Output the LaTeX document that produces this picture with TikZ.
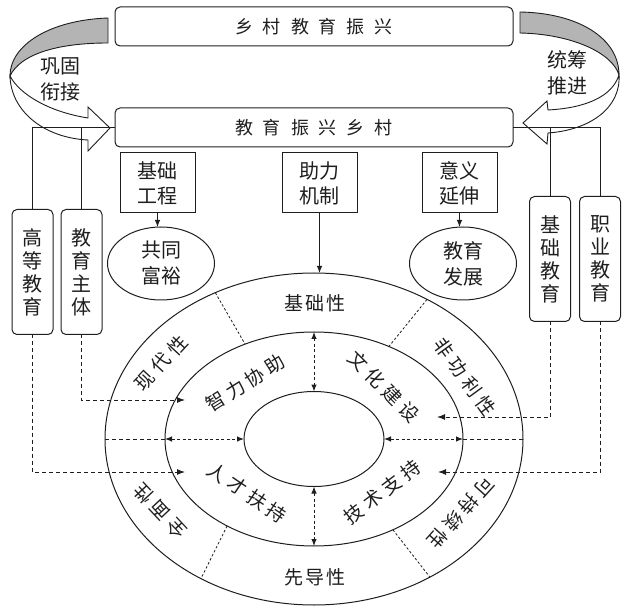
\documentclass[tikz,border=0pt]{standalone}
\usepackage{fontspec}
\setmainfont{Liberation Serif}
\newfontfamily\cjk{Noto Sans CJK SC}
\usetikzlibrary{shapes.geometric,arrows.meta}
\definecolor{bandgray}{RGB}{180,180,180}
\definecolor{ink}{RGB}{30,30,30}
\makeatletter
\def\ls#1#2{\def\ls@k{\kern#1}\ls@first#2\@nil}
\def\ls@first#1{#1\ls@loop}
\def\ls@loop#1{\ifx#1\@nil\else\ls@k#1\expandafter\ls@loop\fi}
\makeatother
\begin{document}
\begin{tikzpicture}[x=1pt,y=-1pt,line width=1pt,draw=ink,
  every node/.style={font=\cjk,text=ink,inner sep=0pt,outer sep=0pt},
  bigbox/.style={draw,rounded corners=5pt,minimum width=398pt,minimum height=39pt,font=\cjk\fontsize{18}{18}\selectfont},
  sqbox/.style={draw,minimum width=75pt,minimum height=60pt,align=center,font=\cjk\fontsize{20}{25}\selectfont},
  ovbox/.style={draw,ellipse,minimum width=107pt,minimum height=73pt,align=center,font=\cjk\fontsize{20}{26}\selectfont},
  vbox/.style={draw,rounded corners=5pt,minimum width=41pt,minimum height=125pt,align=center,font=\cjk\fontsize{20}{23}\selectfont},
  ring/.style={draw,ellipse},
  ringtext/.style={font=\cjk\fontsize{19}{19}\selectfont},
  sidetext/.style={align=center,font=\cjk\fontsize{20}{26}\selectfont},
  solidarr/.style={-{Latex[length=7pt,width=5.5pt]}},
  dashline/.style={dash pattern=on 4pt off 3pt},
  dasharr/.style={dash pattern=on 4pt off 3pt,-{Latex[length=8pt,width=6pt]}},
  dbl/.style={dash pattern=on 3pt off 2.5pt,{Latex[length=7pt,width=5.5pt]}-{Latex[length=7pt,width=5.5pt]}},
  radial/.style={dash pattern=on 2.5pt off 2pt,line width=0.8pt},
  ribbon/.style={line width=0.9pt,draw=ink}
]
\useasboundingbox (0,0) rectangle (624,612);

% curved ribbon arrows
\filldraw[ribbon,fill=bandgray] (108,18) .. controls (50,20) and (10,45) .. (10,76)
  .. controls (20,55) and (55,43) .. (108,43) -- cycle;
\filldraw[ribbon,fill=white] (10,76) .. controls (20,95) and (50,112) .. (88,118)
  -- (88,107) -- (110,128) -- (88,151) -- (88,140)
  .. controls (45,138) and (11,112) .. (10,76) -- cycle;
\filldraw[ribbon,fill=bandgray] (520,12) .. controls (578,13) and (619,38) .. (619,75)
  .. controls (612,52) and (570,34) .. (520,33) -- cycle;
\filldraw[ribbon,fill=white] (619,75) .. controls (612,97) and (585,108) .. (548,110)
  -- (547,101) -- (523,123) -- (547,144) -- (548,133)
  .. controls (590,130) and (621,108) .. (619,75) -- cycle;

\node[sidetext] (lbl1) at (60,79) {巩固\\衔接};
\node[sidetext] (lbl2) at (567,73) {统筹\\推进};

% main boxes
\node[bigbox] (top) at (314,26.5) {\ls{10pt}{乡村教育振兴}};
\node[bigbox] (mid2) at (314,127.5) {\ls{10pt}{教育振兴乡村}};

\node[sqbox] (jcgc) at (157.5,183) {基础\\工程};
\node[sqbox] (zljz) at (319.5,183) {助力\\机制};
\node[sqbox] (yyys) at (459.5,183) {意义\\延伸};

\node[ovbox] (gtfy) at (161,263.5) {共同\\富裕};
\node[ovbox] (jyfz) at (463,263.5) {教育\\发展};

\node[vbox] (gdjy) at (32.5,272) {高\\等\\教\\育};
\node[vbox] (jyzt) at (81.5,272) {教\\育\\主\\体};
\node[vbox] (jcjy) at (550,259) {基\\础\\教\\育};
\node[vbox] (zyjy) at (600,259) {职\\业\\教\\育};

% rings
\node[ring,minimum width=418pt,minimum height=332pt] (outer) at (314,439) {};
\node[ring,minimum width=298pt,minimum height=214pt] (midr) at (314,439) {};
\node[ring,minimum width=140pt,minimum height=95pt] (inner) at (314,439) {};

% solid connectors
\draw (gdjy.north) |- (mid2.west);
\draw (jyzt.north) -- (jyzt.north |- mid2.west);
\draw (zyjy.north) |- (mid2.east);
\draw (jcjy.north) -- (jcjy.north |- mid2.east);
\draw[solidarr] (jcgc.south) -- (jcgc.south |- gtfy.north);
\draw[solidarr] (yyys.south) -- (yyys.south |- jyfz.north);
\draw[solidarr] (zljz.south) -- (zljz.south |- outer.north);

% dashed connectors from side boxes
\coordinate (t1) at (185,400);
\coordinate (t2) at (185,472);
\coordinate (t3) at (437,417);
\coordinate (t4) at (438,472);
\draw[dasharr] (jyzt.south) |- (t1);
\draw[dasharr] (gdjy.south) |- (t2);
\draw[dasharr] (jcjy.south) |- (t3);
\draw[dasharr] (zyjy.south) |- (t4);

% ring connectors
\draw[dashline] (outer.west) -- (midr.west);
\draw[dbl] (midr.west) -- (inner.west);
\draw[dashline] (outer.east) -- (midr.east);
\draw[dbl] (inner.east) -- (midr.east);
\draw[dbl] (midr.north) -- (inner.north);
\draw[dbl] (inner.south) -- (midr.south);

\draw[radial] (outer.124) -- (midr.126.5);
\draw[radial] (outer.51.4) -- (midr.51);
\draw[radial] (midr.225.5) -- (outer.231);
\draw[radial] (midr.-49) -- (outer.-50.5);

% ring texts
\node[ringtext] (r1) at (315,303) {\ls{2pt}{基础性}};
\node[ringtext] (r2) at (315,577) {\ls{2pt}{先导性}};
\node[ringtext,rotate=47] (r3) at (161,363) {\ls{5pt}{现代性}};
\node[ringtext,rotate=-54] (r4) at (465,377) {\ls{5pt}{非功利性}};
\node[ringtext,rotate=133] (r5) at (160,511) {\ls{5pt}{全面性}};
\node[ringtext,rotate=228] (r6) at (461,513) {\ls{4pt}{可持续性}};
\node[ringtext,rotate=32] (m1) at (245,383) {\ls{4pt}{智力协助}};
\node[ringtext,rotate=-45] (m2) at (384,387) {\ls{5pt}{文化建设}};
\node[ringtext,rotate=-34] (m3) at (247,493) {\ls{5pt}{人才扶持}};
\node[ringtext,rotate=37] (m4) at (382,492) {\ls{5pt}{技术支持}};
\end{tikzpicture}
\end{document}
